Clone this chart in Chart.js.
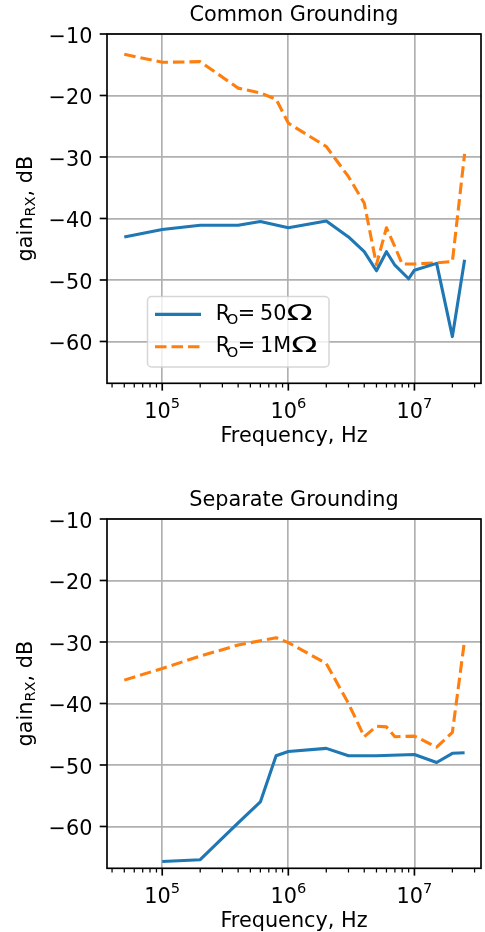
<!DOCTYPE html>
<html>
<head>
<meta charset="utf-8">
<script src="https://cdn.jsdelivr.net/npm/chart.js@4/dist/chart.umd.min.js"></script>
<style>
  html, body { margin: 0; padding: 0; background: #fff; }
  #wrap { position: relative; width: 485px; height: 932px; }
  canvas { position: absolute; left: 0; }
</style>
</head>
<body>
<div id="wrap">
  <canvas id="common" width="485" height="466" style="top:0"></canvas>
  <canvas id="separate" width="485" height="466" style="top:466px"></canvas>
</div>
<script>
// data (frequency in Hz, gain in dB)
const freqCommon50 = [5e4, 1e5, 2e5, 4e5, 6e5, 1e6, 2e6, 3e6, 4e6, 5e6, 6e6, 7e6, 9e6, 1e7, 1.5e7, 2e7, 2.5e7];
const gainCommon50 = [-43.0, -41.8, -41.1, -41.1, -40.5, -41.5, -40.4, -43.0, -45.4, -48.5, -45.4, -47.6, -49.8, -48.4, -47.3, -59.2, -46.7];
const freqCommon1M = [5e4, 1e5, 2e5, 4e5, 6e5, 8e5, 1e6, 2e6, 3e6, 4e6, 5e6, 6e6, 7e6, 8e6, 1e7, 1.5e7, 2e7, 2.5e7];
const gainCommon1M = [-13.3, -14.6, -14.5, -18.8, -19.6, -20.6, -24.5, -28.3, -33.2, -37.5, -47.5, -41.5, -44.6, -47.4, -47.4, -47.2, -47.0, -29.5];

const freqSeparate50 = [1e5, 2e5, 4e5, 6e5, 8e5, 1e6, 2e6, 3e6, 5e6, 1e7, 1.5e7, 2e7, 2.5e7];
const gainSeparate50 = [-65.7, -65.4, -59.4, -56.0, -48.5, -47.8, -47.3, -48.5, -48.5, -48.3, -49.6, -48.1, -48.0];
const freqSeparate1M = [5e4, 1e5, 2e5, 4e5, 6e5, 8e5, 1e6, 2e6, 3e6, 4e6, 5e6, 6e6, 7e6, 1e7, 1.5e7, 2e7, 2.5e7];
const gainSeparate1M = [-36.2, -34.3, -32.3, -30.5, -29.8, -29.3, -30.1, -33.5, -40.0, -45.4, -43.7, -43.8, -45.4, -45.3, -47.1, -44.7, -29.7];

const xMajor = [1e5, 1e6, 1e7];
const yTicks = [-60, -50, -40, -30, -20, -10];
const seriesNames = ['50', '1M'];   // R_O value, shown with an Ω after it

const X_MIN = Math.pow(10, 4.562);
const X_MAX = Math.pow(10, 7.528);
const Y_MIN = -66.8;
const Y_MAX = -10;

const BLUE = '#1f77b4';
const ORANGE = '#ff7f0e';
const FS = 20.8;      // main font size
const FS_SMALL = 14.6; // sub/superscripts

function font(px) {
  return px + 'px "DejaVu Sans"';
}

function points(xs, ys) {
  return xs.map((x, i) => ({ x: x, y: ys[i] }));
}

// minor ticks 2..9 x 10^n inside the visible range
function minorTicks() {
  let out = [];
  for (let e = 4; e <= 7; e++) {
    for (let m = 2; m <= 9; m++) {
      let v = m * Math.pow(10, e);
      if (v >= X_MIN && v <= X_MAX) out.push(v);
    }
  }
  return out;
}

function tickLine(ctx, x1, y1, x2, y2, w) {
  ctx.lineWidth = w;
  ctx.beginPath();
  ctx.moveTo(x1, y1);
  ctx.lineTo(x2, y2);
  ctx.stroke();
}

// draws text pieces left to right, pieces: [text, size, dy]
function drawPieces(ctx, pieces, x, y) {
  pieces.forEach(p => {
    ctx.font = font(p[1]);
    ctx.fillText(p[0], x, y + (p[2] || 0));
    x += ctx.measureText(p[0]).width;
  });
}

function piecesWidth(ctx, pieces) {
  let w = 0;
  pieces.forEach(p => {
    ctx.font = font(p[1]);
    w += ctx.measureText(p[0]).width;
  });
  return w;
}

const mplAxes = {
  id: 'mplAxes',
  afterDraw(chart, args, opts) {
    const ctx = chart.ctx;
    const a = chart.chartArea;
    const xs = chart.scales.x;
    const ys = chart.scales.y;
    ctx.save();
    ctx.fillStyle = '#000';
    ctx.strokeStyle = '#000';

    // box
    ctx.lineWidth = 1.67;
    ctx.strokeRect(a.left, a.top, a.right - a.left, a.bottom - a.top);

    // x ticks
    minorTicks().forEach(v => {
      const px = xs.getPixelForValue(v);
      tickLine(ctx, px, a.bottom, px, a.bottom + 4.2, 1.25);
    });
    xMajor.forEach(v => {
      const px = xs.getPixelForValue(v);
      tickLine(ctx, px, a.bottom, px, a.bottom + 7.3, 1.67);
      const pieces = [['10', FS, 0], [String(Math.round(Math.log10(v))), FS_SMALL, -9.4]];
      const w = piecesWidth(ctx, pieces);
      ctx.textAlign = 'left';
      ctx.textBaseline = 'alphabetic';
      drawPieces(ctx, pieces, px - w / 2, a.bottom + 34.4);
    });

    // y ticks
    yTicks.forEach(v => {
      const py = ys.getPixelForValue(v);
      tickLine(ctx, a.left, py, a.left - 7.3, py, 1.67);
      ctx.font = font(FS);
      ctx.textAlign = 'right';
      ctx.textBaseline = 'alphabetic';
      ctx.fillText(String(v).replace('-', '\u2212'), a.left - 14.6, py + 9);
    });

    // axis titles
    const cx = (a.left + a.right) / 2;
    ctx.font = font(FS);
    ctx.textAlign = 'center';
    ctx.fillText('Frequency, Hz', cx, a.bottom + 58.5);
    ctx.fillText(opts.title, cx, a.top - 13.5);

    const ylab = [['gain', FS, 0], ['RX', FS_SMALL, 3], [', dB', FS, 0]];
    const yw = piecesWidth(ctx, ylab);
    ctx.save();
    ctx.translate(32, (a.top + a.bottom) / 2);
    ctx.rotate(-Math.PI / 2);
    ctx.textAlign = 'left';
    drawPieces(ctx, ylab, -yw / 2, 0);
    ctx.restore();

    // legend
    if (opts.legend) {
      const lx = 147.5, ly = 296.5, lw = 181.5, lh = 70.5;
      ctx.beginPath();
      ctx.roundRect(lx, ly, lw, lh, 4);
      ctx.fillStyle = 'rgba(255,255,255,0.8)';
      ctx.fill();
      ctx.strokeStyle = 'rgba(204,204,204,0.8)';
      ctx.lineWidth = 1.5;
      ctx.stroke();

      const rows = [[BLUE, [], 314.4], [ORANGE, [11.5, 5], 346.7]];
      rows.forEach((r, i) => {
        ctx.strokeStyle = r[0];
        ctx.setLineDash(r[1]);
        ctx.lineCap = 'butt';
        tickLine(ctx, 155, r[2], 201, r[2], 3.1);
        ctx.setLineDash([]);
        ctx.fillStyle = '#000';
        ctx.textAlign = 'left';
        const base = r[2] + 5.4;
        ctx.font = font(FS);
        ctx.fillText('R', 215.8, base);
        ctx.font = font(FS_SMALL);
        ctx.fillText('O', 226.8, base + 4.6);
        ctx.font = font(FS);
        ctx.fillText('=', 237.7, base);
        ctx.fillText(seriesNames[i], 260, base);
        const ox = 260 + ctx.measureText(seriesNames[i]).width;
        ctx.save();
        ctx.translate(ox, base);
        ctx.scale(1.65, 1);
        ctx.fillText('\u03A9', 0, 0);
        ctx.restore();
      });
    }
    ctx.restore();
  }
};

function makeChart(id, title, f50, g50, f1M, g1M, legend, topPad, xHeight) {
  return new Chart(document.getElementById(id), {
    type: 'line',
    data: {
      datasets: [
        {
          label: 'R_O = 50Ω',
          data: points(f50, g50),
          borderColor: BLUE,
          borderWidth: 3.1,
          borderCapStyle: 'butt',
          borderJoinStyle: 'round',
          pointRadius: 0,
          tension: 0
        },
        {
          label: 'R_O = 1MΩ',
          data: points(f1M, g1M),
          borderColor: ORANGE,
          borderWidth: 3.1,
          borderDash: [11.5, 5],
          borderCapStyle: 'butt',
          borderJoinStyle: 'round',
          pointRadius: 0,
          tension: 0
        }
      ]
    },
    options: {
      responsive: false,
      animation: false,
      devicePixelRatio: 1,
      layout: { padding: { top: topPad, right: 4, left: 0, bottom: 0 } },
      plugins: {
        legend: { display: false },
        tooltip: { enabled: false },
        mplAxes: { title: title, legend: legend }
      },
      scales: {
        x: {
          type: 'logarithmic',
          min: X_MIN,
          max: X_MAX,
          afterBuildTicks: s => { s.ticks = xMajor.map(v => ({ value: v })); },
          afterFit: s => { s.height = xHeight; },
          ticks: { display: false },
          grid: { color: '#b0b0b0', lineWidth: 1.67, drawTicks: false },
          border: { display: false }
        },
        y: {
          min: Y_MIN,
          max: Y_MAX,
          afterBuildTicks: s => { s.ticks = yTicks.map(v => ({ value: v })); },
          afterFit: s => { s.width = 107; },
          ticks: { display: false },
          grid: { color: '#b0b0b0', lineWidth: 1.67, drawTicks: false },
          border: { display: false }
        }
      }
    },
    plugins: [mplAxes]
  });
}

makeChart('common', 'Common Grounding', freqCommon50, gainCommon50, freqCommon1M, gainCommon1M, true, 34, 82.7);
makeChart('separate', 'Separate Grounding', freqSeparate50, gainSeparate50, freqSeparate1M, gainSeparate1M, false, 53, 63.7);
</script>
</body>
</html>
